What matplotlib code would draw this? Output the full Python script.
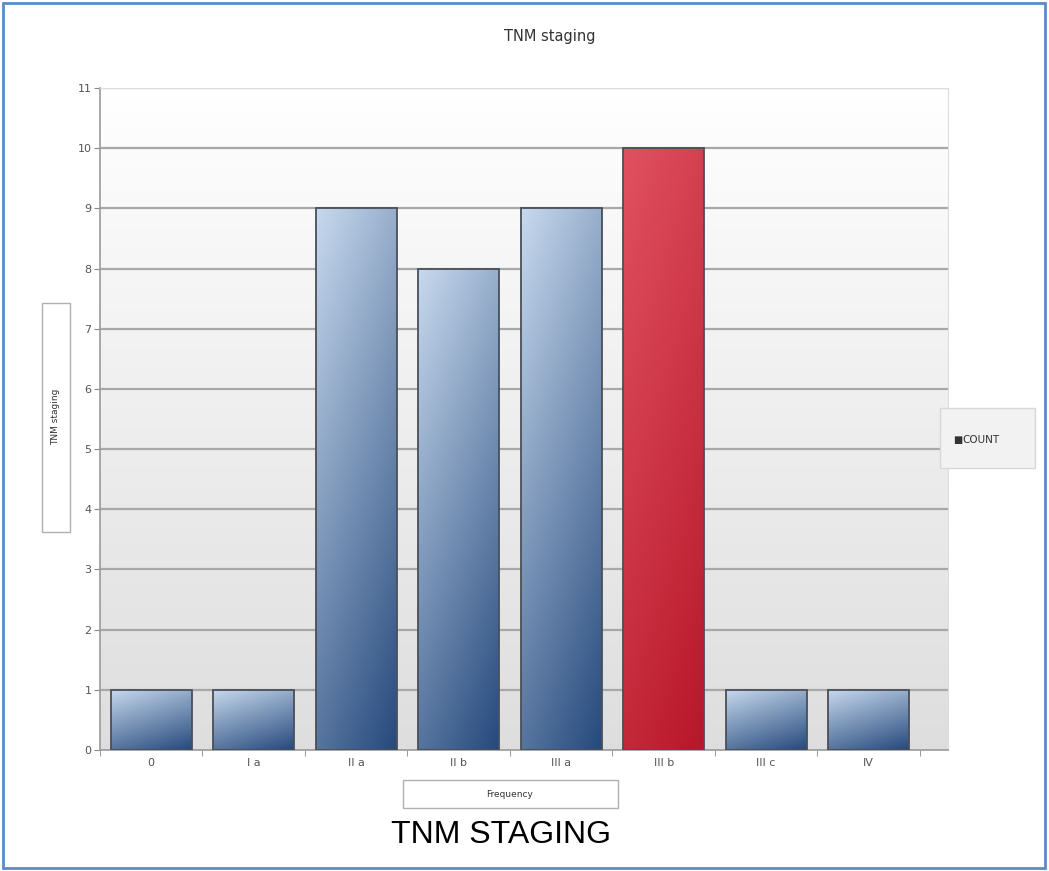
import matplotlib
matplotlib.use("Agg")
import matplotlib.pyplot as plt
from matplotlib.patches import Rectangle
import numpy as np

stages = ["0", "I a", "II a", "II b", "III a", "III b", "III c", "IV"]
counts = [1, 1, 9, 8, 9, 10, 1, 1]
highlight = "III b"

BLUE_LIGHT = np.array([0.78, 0.85, 0.93])
BLUE_DARK = np.array([0.15, 0.29, 0.49])
RED_LIGHT = np.array([0.88, 0.32, 0.38])
RED_DARK = np.array([0.72, 0.09, 0.16])


def gradient(light, dark, n=64):
    # light at top-left, dark toward the bottom-right of each bar
    u = np.linspace(0, 1, n)[None, :]
    v = np.linspace(1, 0, n)[:, None]
    t = np.clip(0.7 * (1 - v) + 0.3 * u, 0, 1)
    return light[None, None, :] * (1 - t[..., None]) + dark[None, None, :] * t[..., None]


fig = plt.figure(figsize=(10.49, 8.71), dpi=100)
fig.patch.set_facecolor("white")

ax = fig.add_axes([0.0953, 0.139, 0.808, 0.760])
XMAX = 7.77

# plot-area background: white at top fading to light gray
bg = np.linspace(1.0, 0.87, 128)[:, None, None] * np.ones((1, 2, 3))
ax.imshow(bg, extent=[-0.5, XMAX, 0, 11], origin="upper", aspect="auto",
          zorder=0, interpolation="bilinear")

for y in range(1, 12):
    ax.axhline(y, color="#a8a8a8", lw=1.6, zorder=1)

w = 0.79
for i, (s, c) in enumerate(zip(stages, counts)):
    x0 = i - w / 2
    if s == highlight:
        img = gradient(RED_LIGHT, RED_DARK)
    else:
        img = gradient(BLUE_LIGHT, BLUE_DARK)
    rect = Rectangle((x0, 0), w, c, facecolor="none", edgecolor="#4a4f58",
                     lw=1.3, zorder=4)
    ax.add_patch(rect)
    im = ax.imshow(img, extent=[x0, x0 + w, 0, c], origin="upper",
                   aspect="auto", zorder=3, interpolation="bilinear")
    im.set_clip_path(rect)

ax.set_xlim(-0.5, XMAX)
ax.set_ylim(0, 11)

ax.set_xticks(range(len(stages)))
ax.set_xticklabels(stages, fontsize=8, color="#555555")
ax.tick_params(axis="x", which="major", length=0, pad=6)
ax.set_xticks(np.arange(-0.5, 8.0, 1.0), minor=True)
ax.tick_params(axis="x", which="minor", length=4, color="#888888")

ax.set_yticks(range(0, 12))
ax.set_yticklabels([str(v) for v in range(0, 12)], fontsize=8, color="#555555")
ax.tick_params(axis="y", length=4, color="#888888", pad=2)

for side in ["left", "bottom"]:
    ax.spines[side].set_color("#9a9a9a")
    ax.spines[side].set_linewidth(1.2)
for side in ["top", "right"]:
    ax.spines[side].set_color("#dddddd")

fig.text(0.5237, 0.958, "TNM staging", ha="center", va="center",
         fontsize=10.5, color="#333333")

# axis-title boxes in the style of the charting tool
fig.patches.append(Rectangle((42 / 1049, 1 - 532 / 871), 28 / 1049, 229 / 871,
                             transform=fig.transFigure, facecolor="white",
                             edgecolor="#b0b0b0", lw=1))
fig.text(56 / 1049, 1 - 417 / 871, "TNM staging", rotation=90, ha="center",
         va="center", fontsize=6.5, color="#333333")

fig.patches.append(Rectangle((403 / 1049, 1 - 808 / 871), 215 / 1049, 28 / 871,
                             transform=fig.transFigure, facecolor="white",
                             edgecolor="#b0b0b0", lw=1))
fig.text(510 / 1049, 1 - 794 / 871, "Frequency", ha="center", va="center",
         fontsize=6.5, color="#333333")

# legend box
fig.patches.append(Rectangle((940 / 1049, 1 - 468 / 871), 95 / 1049, 60 / 871,
                             transform=fig.transFigure, facecolor="#f2f2f2",
                             edgecolor="#d8d8d8", lw=1))
fig.text(953 / 1049, 1 - 440 / 871, "\u25a0", ha="left", va="center",
         fontsize=7, color="#333333")
fig.text(962 / 1049, 1 - 440 / 871, "COUNT", ha="left", va="center",
         fontsize=7.5, color="#333333")

fig.text(501 / 1049, 1 - 835 / 871, "TNM STAGING", ha="center", va="center",
         fontsize=23, family=["Liberation Sans Narrow", "Liberation Sans"],
         color="black")

# outer frame
fig.patches.append(Rectangle((3 / 1049, 3 / 871), 1042 / 1049, 865 / 871,
                             transform=fig.transFigure, facecolor="none",
                             edgecolor="#5b8ac6", lw=2))

fig.savefig("out.png", dpi=100)
